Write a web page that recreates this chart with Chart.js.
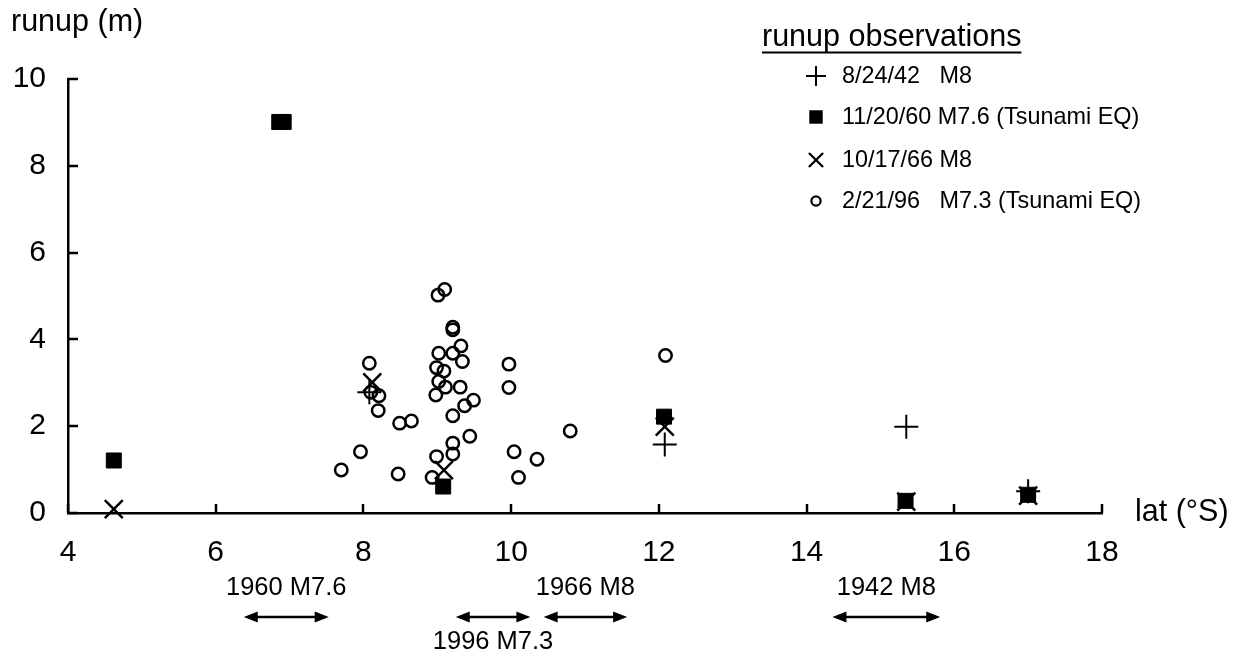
<!DOCTYPE html>
<html><head><meta charset="utf-8">
<script src="https://cdn.jsdelivr.net/npm/chart.js@4.4.0/dist/chart.umd.min.js"></script>
<style>html,body{margin:0;padding:0;background:#fff;} canvas{display:block;}</style>
</head><body>
<canvas id="c" width="1235" height="660"></canvas>
<script>
// ---- data ----
const xTicks = [4, 6, 8, 10, 12, 14, 16, 18];
const yTicks = [0, 2, 4, 6, 8, 10];

const label1942 = '8/24/42   M8';
const lat1942 = [8.08, 12.08, 15.35, 17.0];
const run1942 = [2.78, 1.58, 1.99, 0.50];

const label1960 = '11/20/60 M7.6 (Tsunami EQ)';
const lat1960 = [4.62, 6.86, 6.92, 9.08, 12.07, 15.34, 17.0];
const run1960 = [1.21, 9.01, 9.01, 0.61, 2.22, 0.28, 0.42];

const label1966 = '10/17/66 M8';
const lat1966 = [4.62, 8.12, 9.09, 12.08, 15.35, 17.0];
const run1966 = [0.09, 3.01, 0.99, 1.99, 0.26, 0.40];

const label1996 = '2/21/96   M7.3 (Tsunami EQ)';
const lat1996 = [9.10, 9.01, 9.21, 9.21, 9.32, 9.02, 9.21, 9.34, 8.08, 8.99, 9.09, 9.02,
                 9.11, 9.31, 8.98, 8.10, 8.21, 8.20, 9.49, 9.37, 9.21, 8.49, 8.65, 9.44,
                 9.21, 9.21, 8.99, 7.96, 7.70, 8.47, 8.93, 9.97, 9.97, 10.04, 10.35, 10.10,
                 10.80, 12.09];
const run1996 = [5.15, 5.02, 4.28, 4.22, 3.85, 3.68, 3.68, 3.49, 3.45, 3.35, 3.27, 3.03,
                 2.90, 2.90, 2.72, 2.78, 2.70, 2.36, 2.60, 2.47, 2.24, 2.07, 2.12, 1.77,
                 1.61, 1.36, 1.30, 1.41, 0.99, 0.90, 0.82, 3.43, 2.89, 1.41, 1.24, 0.82,
                 1.89, 3.63];

const annLabels = ['1960 M7.6', '1996 M7.3', '1966 M8', '1942 M8'];
const annStart  = [6.38, 9.25, 10.44, 14.35];
const annEnd    = [7.53, 10.26, 11.57, 15.81];
const annBelow  = [false, true, false, false];

const legendTitle = 'runup observations';
const xTitle = 'lat (\u00B0S)';
const yTitle = 'runup (m)';

// ---- helpers ----
const FONT = '"Liberation Sans", Arial, Helvetica, sans-serif';
const pts = (xs, ys) => xs.map((x, i) => ({x: x, y: ys[i]}));

function drawMarker(ctx, style, x, y, r, lw) {
  ctx.save();
  ctx.strokeStyle = '#000'; ctx.fillStyle = '#000'; ctx.lineWidth = lw;
  ctx.beginPath();
  if (style === 'cross') {
    ctx.moveTo(x - r, y); ctx.lineTo(x + r, y);
    ctx.moveTo(x, y - r); ctx.lineTo(x, y + r); ctx.stroke();
  } else if (style === 'crossRot') {
    const o = r * Math.SQRT1_2;
    ctx.moveTo(x - o, y - o); ctx.lineTo(x + o, y + o);
    ctx.moveTo(x + o, y - o); ctx.lineTo(x - o, y + o); ctx.stroke();
  } else if (style === 'rect') {
    const s = r * Math.SQRT1_2;
    ctx.fillRect(x - s, y - s, 2 * s, 2 * s);
  } else {
    ctx.arc(x, y, r, 0, Math.PI * 2); ctx.stroke();
  }
  ctx.restore();
}

function arrow(ctx, x1, x2, y) {
  const hl = 14, hw = 5.5;
  ctx.save();
  ctx.strokeStyle = '#000'; ctx.fillStyle = '#000'; ctx.lineWidth = 2.5;
  ctx.beginPath(); ctx.moveTo(x1 + hl - 2, y); ctx.lineTo(x2 - hl + 2, y); ctx.stroke();
  ctx.beginPath(); ctx.moveTo(x1, y); ctx.lineTo(x1 + hl, y - hw); ctx.lineTo(x1 + hl, y + hw); ctx.closePath(); ctx.fill();
  ctx.beginPath(); ctx.moveTo(x2, y); ctx.lineTo(x2 - hl, y - hw); ctx.lineTo(x2 - hl, y + hw); ctx.closePath(); ctx.fill();
  ctx.restore();
}

const decorations = {
  id: 'decorations',
  afterDraw(chart) {
    const ctx = chart.ctx;
    const xs = chart.scales.x, ys = chart.scales.y;
    const ca = chart.chartArea;
    ctx.save();
    // inner tick marks
    ctx.strokeStyle = '#000'; ctx.lineWidth = 2.5;
    xs.ticks.forEach(t => {
      const px = Math.round(xs.getPixelForValue(t.value));
      ctx.beginPath(); ctx.moveTo(px, ca.bottom); ctx.lineTo(px, ca.bottom - 9); ctx.stroke();
    });
    ys.ticks.forEach(t => {
      const py = Math.round(ys.getPixelForValue(t.value));
      ctx.beginPath(); ctx.moveTo(ca.left, py); ctx.lineTo(ca.left + 10, py); ctx.stroke();
    });
    // axis titles
    ctx.fillStyle = '#000';
    ctx.font = '30.5px ' + FONT;
    ctx.textAlign = 'left'; ctx.textBaseline = 'alphabetic';
    ctx.fillText(yTitle, 11, 31);
    ctx.textBaseline = 'middle';
    ctx.fillText(xTitle, ca.right + 33, ca.bottom);
    // legend
    ctx.textBaseline = 'alphabetic';
    ctx.font = '30.5px ' + FONT;
    ctx.fillText(legendTitle, 762, 46);
    const tw = ctx.measureText(legendTitle).width;
    ctx.lineWidth = 2;
    ctx.beginPath(); ctx.moveTo(762, 52.5); ctx.lineTo(762 + tw, 52.5); ctx.stroke();
    const rowsY = [76, 117, 160, 201];
    const styles = [['cross', 10, 2], ['rect', 9.5, 1], ['crossRot', 10, 2.2], ['circle', 4.6, 2.2]];
    ctx.font = '23.4px ' + FONT;
    ctx.textBaseline = 'middle';
    chart.data.datasets.forEach((ds, i) => {
      drawMarker(ctx, styles[i][0], 816, rowsY[i], styles[i][1], styles[i][2]);
      ctx.fillStyle = '#000';
      ctx.fillText(ds.label, 842, rowsY[i] + 1);
    });
    // arrows under the axis
    ctx.font = '25.5px ' + FONT;
    ctx.textAlign = 'center';
    annLabels.forEach((lab, i) => {
      const x1 = xs.getPixelForValue(annStart[i]);
      const x2 = xs.getPixelForValue(annEnd[i]);
      arrow(ctx, x1, x2, 617);
      ctx.fillText(lab, (x1 + x2) / 2, annBelow[i] ? 642 : 588);
    });
    ctx.restore();
  }
};

new Chart(document.getElementById('c'), {
  type: 'scatter',
  data: {
    datasets: [
      {label: label1942, data: pts(lat1942, run1942), pointStyle: 'cross', pointRadius: 12,
       borderColor: '#000', backgroundColor: '#000', borderWidth: 2, clip: false},
      {label: label1960, data: pts(lat1960, run1960), pointStyle: 'rect', pointRadius: 10.6,
       borderColor: '#000', backgroundColor: '#000', borderWidth: 1, clip: false},
      {label: label1966, data: pts(lat1966, run1966), pointStyle: 'crossRot', pointRadius: 12.7,
       borderColor: '#000', backgroundColor: '#000', borderWidth: 2.5, clip: false},
      {label: label1996, data: pts(lat1996, run1996), pointStyle: 'circle', pointRadius: 6.2,
       borderColor: '#000', backgroundColor: 'rgba(0,0,0,0)', borderWidth: 2.5, clip: false}
    ]
  },
  options: {
    responsive: false,
    animation: false,
    devicePixelRatio: 1,
    events: [],
    layout: {padding: {top: 79, right: 133, left: 0, bottom: 0}},
    plugins: {legend: {display: false}, tooltip: {enabled: false}},
    scales: {
      x: {
        type: 'linear', min: 4, max: 18,
        afterBuildTicks: s => { s.ticks = xTicks.map(v => ({value: v})); },
        afterFit: s => { s.height = 147; },
        grid: {display: false, drawTicks: false},
        border: {display: true, color: '#000', width: 2.5},
        ticks: {color: '#000', font: {family: FONT, size: 30}, padding: 22, maxRotation: 0}
      },
      y: {
        type: 'linear', min: 0, max: 10,
        afterBuildTicks: s => { s.ticks = yTicks.map(v => ({value: v})); },
        afterFit: s => { s.width = 68; },
        grid: {display: false, drawTicks: false},
        border: {display: true, color: '#000', width: 2.5},
        ticks: {color: '#000', font: {family: FONT, size: 30}, padding: 22}
      }
    }
  },
  plugins: [decorations]
});
</script>
</body></html>
